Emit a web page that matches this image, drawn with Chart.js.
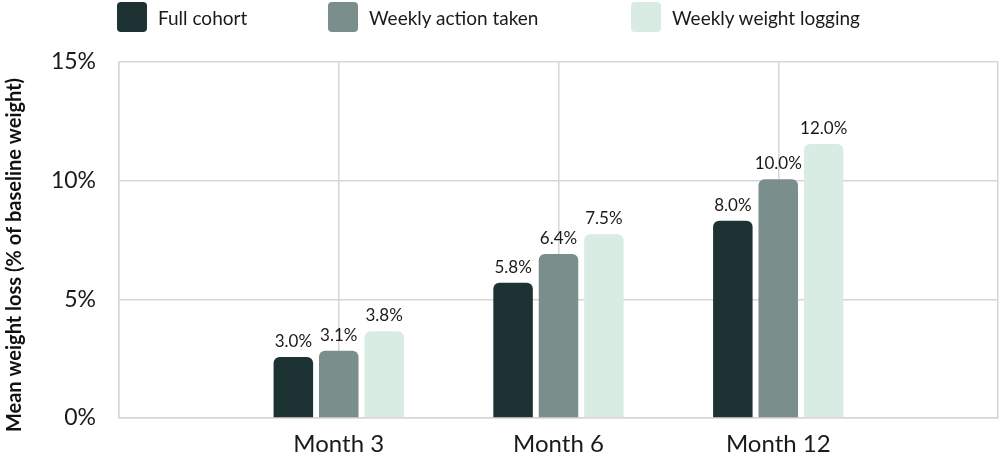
<!DOCTYPE html>
<html>
<head>
<meta charset="utf-8">
<script src="https://cdn.jsdelivr.net/npm/chart.js@4.4.1/dist/chart.umd.min.js"></script>
<style>
  html, body { margin: 0; padding: 0; background: #fff; overflow: hidden; }
  #wrap { position: relative; width: 1000px; height: 458px; }
  #legend { position: absolute; top: 2px; left: 0; width: 1000px; height: 30px; font-family: Lato, sans-serif; font-size: 19px; color: #1a1a1a; }
  .item { position: absolute; top: 0; height: 30px; display: flex; align-items: center; }
  .box { width: 30px; height: 30px; border-radius: 4px; margin-right: 11px; }
  canvas { position: absolute; left: 0; top: 0; }
</style>
</head>
<body>
<div id="wrap">
  <canvas id="c" width="1000" height="458"></canvas>
  <div id="legend"></div>
</div>
<script>
const categories = ['Month 3', 'Month 6', 'Month 12'];
const seriesNames = ['Full cohort', 'Weekly action taken', 'Weekly weight logging'];
const seriesColors = ['#1d3232', '#7a8f8b', '#d9ece4'];
// bar heights as drawn in the picture (% of baseline weight)
const fullCohort = [2.57, 5.70, 8.31];
const weeklyAction = [2.83, 6.91, 10.06];
const weeklyLogging = [3.66, 7.74, 11.54];
// value labels printed above the bars
const fullCohortLabels = ['3.0%', '5.8%', '8.0%'];
const weeklyActionLabels = ['3.1%', '6.4%', '10.0%'];
const weeklyLoggingLabels = ['3.8%', '7.5%', '12.0%'];
const yTicks = [0, 5, 10, 15];
const yTitle = 'Mean weight loss (% of baseline weight)';
const legendLeft = [117, 328, 631];

const pad = arr => [null, ...arr, null];
const labels = ['', ...categories, ''];
const seriesValues = [fullCohort, weeklyAction, weeklyLogging];
const seriesLabels = [fullCohortLabels, weeklyActionLabels, weeklyLoggingLabels];

const datasets = seriesNames.map((name, i) => ({
  label: name,
  data: pad(seriesValues[i]),
  valueLabels: pad(seriesLabels[i]),
  backgroundColor: seriesColors[i],
  borderRadius: 6,
  borderSkipped: 'start',
  categoryPercentage: 0.62,
  barPercentage: 0.87
}));

// legend (HTML) built from datasets
const lg = document.getElementById('legend');
seriesNames.forEach((name, i) => {
  const it = document.createElement('div');
  it.className = 'item';
  it.style.left = legendLeft[i] + 'px';
  const b = document.createElement('div');
  b.className = 'box';
  b.style.background = seriesColors[i];
  const t = document.createElement('span');
  t.textContent = name;
  it.appendChild(b); it.appendChild(t);
  lg.appendChild(it);
});

const valueLabelPlugin = {
  id: 'valueLabels',
  afterDatasetsDraw(chart) {
    const ctx = chart.ctx;
    ctx.save();
    ctx.font = '17px Lato, sans-serif';
    ctx.fillStyle = '#1a1a1a';
    ctx.textAlign = 'center';
    ctx.textBaseline = 'bottom';
    chart.data.datasets.forEach((ds, di) => {
      const meta = chart.getDatasetMeta(di);
      meta.data.forEach((bar, idx) => {
        const txt = ds.valueLabels[idx];
        if (txt == null || ds.data[idx] == null) return;
        ctx.fillText(txt, bar.x, bar.y - 7);
      });
    });
    // y axis title
    ctx.font = 'bold 20px Lato, sans-serif';
    ctx.fillStyle = '#111';
    ctx.textBaseline = 'middle';
    ctx.translate(15, 255);
    ctx.rotate(-Math.PI / 2);
    ctx.fillText(yTitle, 0, 0);
    ctx.restore();
  }
};

Chart.defaults.font.family = 'Lato, sans-serif';
Chart.defaults.color = '#1a1a1a';

new Chart(document.getElementById('c'), {
  type: 'bar',
  data: { labels, datasets },
  options: {
    responsive: false,
    animation: false,
    layout: { padding: { top: 62, right: 2, left: 0, bottom: 0 } },
    plugins: { legend: { display: false }, tooltip: { enabled: false } },
    scales: {
      x: {
        offset: false,
        grid: { color: '#d9d6d2', lineWidth: 1.5, offset: false, drawTicks: false },
        border: { color: '#d9d6d2', width: 1.5 },
        ticks: { font: { size: 24 }, color: '#1a1a1a', padding: 12, maxRotation: 0, autoSkip: false },
        afterFit(scale) { scale.height = 40; scale.paddingRight = 0; scale.paddingLeft = 0; }
      },
      y: {
        min: 0, max: 15,
        afterBuildTicks(scale) { scale.ticks = yTicks.map(v => ({ value: v })); },
        grid: { color: '#d9d6d2', lineWidth: 1.5, drawTicks: false },
        border: { color: '#d9d6d2', width: 1.5 },
        ticks: { font: { size: 23 }, color: '#1a1a1a', padding: 23, callback: v => v + '%' },
        title: { display: false },
        afterFit(scale) { scale.width = 119; }
      }
    }
  },
  plugins: [valueLabelPlugin]
});
</script>
</body>
</html>
